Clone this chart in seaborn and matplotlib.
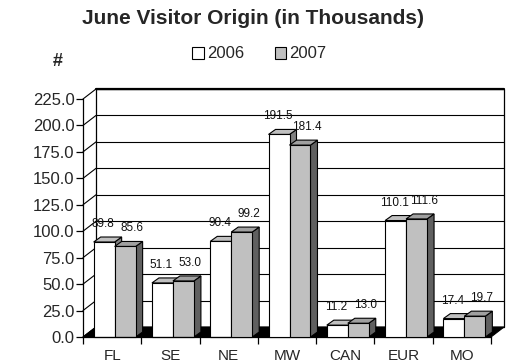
import matplotlib
matplotlib.use("Agg")
import matplotlib.pyplot as plt
from matplotlib.patches import Polygon, Patch, Rectangle
import seaborn as sns
import pandas as pd
import numpy as np

regions = ["FL", "SE", "NE", "MW", "CAN", "EUR", "MO"]
years = ["2006", "2007"]
values_2006 = [89.8, 51.1, 90.4, 191.5, 11.2, 110.1, 17.4]
values_2007 = [85.6, 53.0, 99.2, 181.4, 13.0, 111.6, 19.7]
yticks = [0, 25, 50, 75, 100, 125, 150, 175, 200, 225]

df = pd.DataFrame({
    "region": regions * 2,
    "year": [years[0]] * len(regions) + [years[1]] * len(regions),
    "value": values_2006 + values_2007,
})

sns.set_theme(style="white")
plt.rcParams["font.family"] = ["Liberation Sans", "DejaVu Sans"]

W, H = 519, 364
fig = plt.figure(figsize=(W / 100, H / 100), dpi=100)
ax = fig.add_axes([83 / W, 1 - 337 / H, 408 / W, 238 / H])

front_colors = {"2006": "#ffffff", "2007": "#c0c0c0"}
top_colors = {"2006": "#c0c0c0", "2007": "#a0a0a0"}
side_colors = {"2006": "#808080", "2007": "#606060"}

sns.barplot(data=df, x="region", y="value", hue="year", order=regions,
            hue_order=years, palette=front_colors, edgecolor="black",
            linewidth=0.8, width=0.72, saturation=1, legend=False, ax=ax)

bars = [p for p in ax.patches if isinstance(p, Rectangle)]

ax.set_xlim(-0.5, 6.5)
ax.set_ylim(0, 225)

# depth offsets (data units)
px_x = 7 / 408.0   # data units per pixel x
px_y = 225 / 238.0  # data units per pixel y
DX, DY = 13 * px_x, 10 * px_y
bdx, bdy = 7 * px_x, 5 * px_y
x0a, x1a = -0.5, 6.5

# back wall
ax.add_patch(Polygon([(x0a + DX, DY), (x0a + DX, 225 + DY), (x1a + DX, 225 + DY), (x1a + DX, DY)],
                     closed=True, facecolor="white", edgecolor="black", lw=0.9,
                     clip_on=False, zorder=0.5))
for t in yticks:
    ax.plot([x0a + DX, x1a + DX], [t + DY, t + DY], color="black", lw=0.8,
            clip_on=False, zorder=0.6)
    ax.plot([x0a, x0a + DX], [t, t + DY], color="black", lw=0.8,
            clip_on=False, zorder=0.6)
ax.plot([x0a + DX, x1a + DX], [225 + DY, 225 + DY], color="black", lw=1.6,
        clip_on=False, zorder=0.6)
# floor
ax.add_patch(Polygon([(x0a, 0), (x0a + DX, DY), (x1a + DX, DY), (x1a, 0)],
                     closed=True, facecolor="black", edgecolor="black", lw=0.8,
                     clip_on=False, zorder=0.7))

# 3D bar faces
shift = 2.5 * px_x
bars.sort(key=lambda p: p.get_x())
for i, p in enumerate(bars):
    p.set_x(p.get_x() + shift)
    x0 = p.get_x()
    w = p.get_width()
    h = p.get_height()
    fc = p.get_facecolor()
    yr = "2006" if fc[0] > 0.9 else "2007"
    z = 2 + i * 0.1
    p.set_zorder(z + 0.05)
    p.set_clip_on(False)
    top = Polygon([(x0, h), (x0 + bdx, h + bdy), (x0 + w + bdx, h + bdy), (x0 + w, h)],
                  closed=True, facecolor=top_colors[yr], edgecolor="black", lw=0.8,
                  clip_on=False, zorder=z)
    side = Polygon([(x0 + w, 0), (x0 + w + bdx, bdy), (x0 + w + bdx, h + bdy), (x0 + w, h)],
                   closed=True, facecolor=side_colors[yr], edgecolor="black", lw=0.8,
                   clip_on=False, zorder=z)
    ax.add_patch(side)
    ax.add_patch(top)
    offx = -1 if yr == "2006" else 7
    ax.annotate(f"{h:.1f}", xy=(x0 + w / 2, h), xytext=(offx, 12),
                textcoords="offset pixels", ha="center", va="bottom",
                fontsize=8.5, color="#111111", zorder=10)

# axes styling
for s in ["top", "right"]:
    ax.spines[s].set_visible(False)
ax.spines["left"].set_color("black")
ax.spines["bottom"].set_color("black")
ax.spines["left"].set_linewidth(0.9)
ax.spines["bottom"].set_linewidth(0.9)
ax.set_yticks(yticks)
ax.set_yticklabels([f"{t:.1f}" for t in yticks], fontsize=12)
ax.set_xticks(range(len(regions)))
ax.set_xticklabels(regions, fontsize=11)
ax.set_xticks(np.arange(-0.5, 7, 1.0), minor=True)
ax.tick_params(axis="x", which="major", length=0, pad=9)
ax.tick_params(axis="x", which="minor", length=5, width=0.9, color="black", direction="out", bottom=True)
ax.tick_params(axis="y", length=5, width=0.9, color="black", direction="out", left=True, pad=1)
ax.set_xlabel("")
ax.set_ylabel("")
ax.grid(False)

fig.text(0.5 - 6 / W, 1 - 18 / H, "June Visitor Origin (in Thousands)", ha="center",
         va="center", fontsize=15, fontweight="bold")
fig.text(58 / W, 1 - 62 / H, "#", ha="center", va="center", fontsize=13,
         fontweight="bold")

handles = [Patch(facecolor=front_colors[y], edgecolor="black", lw=0.8) for y in years]
fig.legend(handles, years, loc="center", bbox_to_anchor=(0.5, 1 - 54 / H), ncol=2,
           frameon=False, fontsize=12, handlelength=0.7, handleheight=0.7,
           handletextpad=0.2, columnspacing=1.8)

fig.savefig("out.png", dpi=100)
